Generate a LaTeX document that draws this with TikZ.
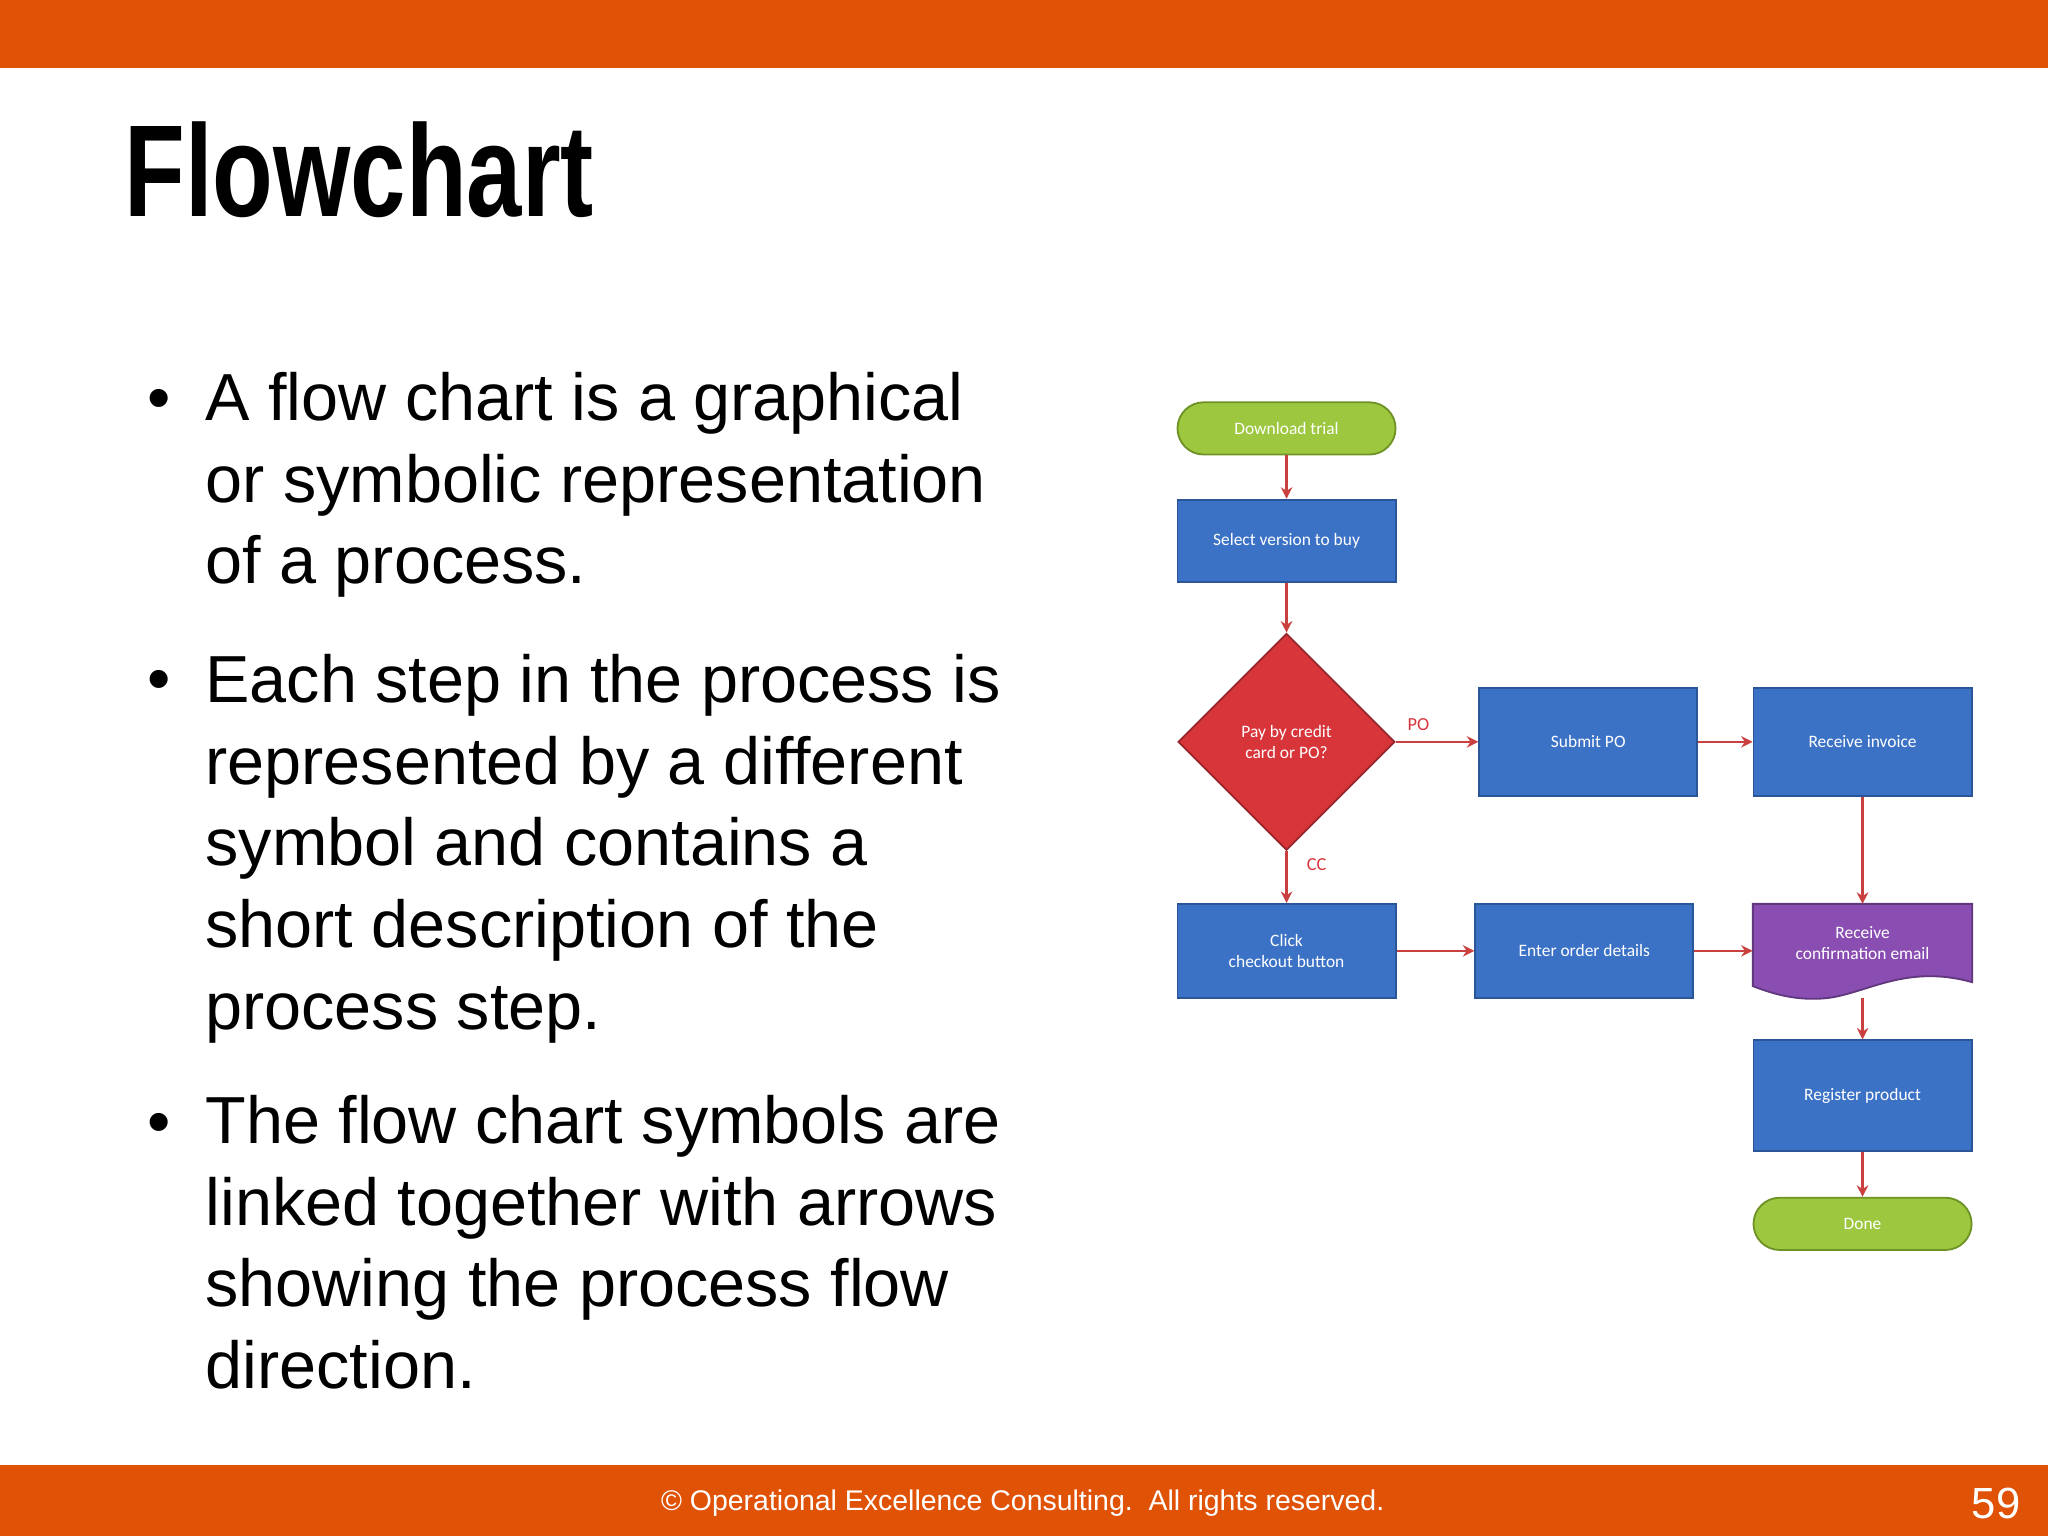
\documentclass[tikz,border=0pt]{standalone}
\usepackage{fontspec}
\setmainfont{Liberation Sans}
\newfontfamily\fcfont{Carlito}
\usetikzlibrary{shapes.geometric,arrows.meta}
\definecolor{org}{HTML}{E05206}
\definecolor{bblue}{HTML}{3C72C6}
\definecolor{bbord}{HTML}{2A5597}
\definecolor{ggreen}{HTML}{9DC73F}
\definecolor{gbord}{HTML}{6F9226}
\definecolor{rred}{HTML}{D8353B}
\definecolor{pur}{HTML}{8A4EB3}
\definecolor{arr}{HTML}{C9403F}
\tikzset{
 box/.style={draw=bbord,fill=bblue,line width=0.8pt,text=white,font=\fcfont\fontsize{7.6}{9.4}\selectfont,align=center,inner sep=0pt,minimum width=3.34cm},
 pill/.style={box,draw=gbord,fill=ggreen,rounded corners=0.4cm,minimum height=0.8cm},
 dec/.style={box,draw=rred!70!black,fill=rred,diamond,minimum width=3.32cm,minimum height=3.32cm,aspect=1},
 flow/.style={draw=arr,line width=1pt,-{Stealth[length=5pt,width=5pt]}},
 lbl/.style={text=rred,font=\fcfont\fontsize{8}{9}\selectfont},
 bul/.style={anchor=base west,font=\fontsize{29}{35.6}\selectfont,align=left,inner sep=0pt}
}
\begin{document}
\begin{tikzpicture}[x=0.02cm,y=-0.02cm]
\useasboundingbox (0,0) rectangle (1568,1176);
\fill[org] (0,0) rectangle (1568,52);
\fill[org] (0,1122) rectangle (1568,1176);
\node[anchor=base west,inner sep=0pt,font=\bfseries\fontsize{57}{57}\selectfont,xscale=0.76] (title) at (95,166) {Flowchart};
\foreach \y in {322,537,876} \node[anchor=base,font=\fontsize{29}{29}\selectfont,inner sep=0pt] at (122,\y) {•};
\node[bul] (b1) at (157,447) {A flow chart is a graphical\\or symbolic representation\\of a process.};
\node[bul] (b2) at (157,788) {Each step in the process is\\represented by a different\\symbol and contains a\\short description of the\\process step.};
\node[bul] (b3) at (157,1063) {The flow chart symbols are\\linked together with arrows\\showing the process flow\\direction.};
\node[anchor=center,text=white,font=\fontsize{12.4}{14}\selectfont] (foot) at (783,1151) {© Operational Excellence Consulting.\ \ All rights reserved.};
\node[anchor=east,text=white,font=\fontsize{19}{20}\selectfont] (pg) at (1553,1151) {59};
% flowchart
\node[pill] (dl) at (985,328) {Download trial};
\node[box,minimum height=1.26cm] (sv) at (985,414) {Select version to buy};
\node[dec] (pay) at (985,568) {Pay by credit\\card or PO?};
\node[box,minimum height=1.66cm] (spo) at (1216,568) {Submit PO};
\node[box,minimum height=1.66cm] (ri) at (1426,568) {Receive invoice};
\node[box,minimum height=1.44cm] (cc) at (985,728) {Click\\checkout button};
\node[box,minimum height=1.44cm] (eo) at (1213,728) {Enter order details};
\fill[pur,draw=pur!70!black,line width=0.8pt] (1342,692) -- (1510,692) -- (1510,752) .. controls (1460,738) and (1430,760) .. (1400,764) .. controls (1375,767) and (1355,760) .. (1342,755) -- cycle;
\node[box,draw=none,fill=none,minimum height=1.2cm] (rc) at (1426,722) {Receive\\confirmation email};
\coordinate (rcb) at (1426,764);
\coordinate (rct) at (1426,692);
\node[box,minimum height=1.7cm] (rp) at (1426,839) {Register product};
\node[pill] (dn) at (1426,937) {Done};
\draw[flow] (dl) -- (sv);
\draw[flow] (sv) -- (pay);
\draw[flow] (pay.east) -- (spo);
\draw[flow] (spo) -- (ri);
\draw[flow] (ri) -- (rct);
\draw[flow] (pay.south) -- (cc);
\draw[flow] (cc) -- (eo);
\draw[flow] (eo.east) -- (eo.east -| rc.west);
\draw[flow] (rcb) -- (rp);
\draw[flow] (rp) -- (dn);
\node[lbl] (po) at (1086,555) {PO};
\node[lbl] (ccl) at (1008,662) {CC};
\end{tikzpicture}
\end{document}
